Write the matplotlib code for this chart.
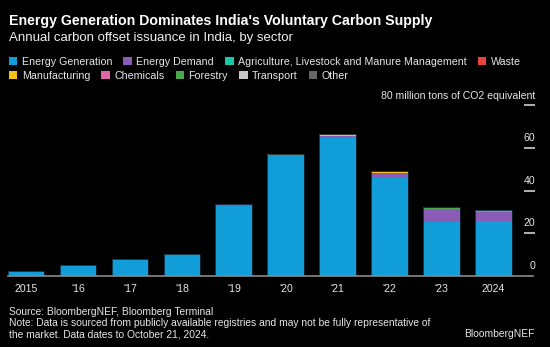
import matplotlib.pyplot as plt
from matplotlib.patches import Patch
import numpy as np

plt.rcParams['font.family'] = ['Liberation Sans', 'DejaVu Sans']

years = ['2015', "'16", "'17", "'18", "'19", "'20", "'21", "'22", "'23", '2024']

# million tons CO2e
energy_gen = [2.3, 5.2, 7.8, 10.2, 32.9, 56.3, 64.9, 45.9, 25.0, 25.7]
energy_dem = [0, 0, 0, 0, 0.8, 0.2, 0.5, 2.5, 6.4, 4.4]
agriculture = [0, 0, 0, 0, 0, 0, 0, 0, 0, 0.9]
waste = [0, 0, 0, 0, 0, 0, 0.3, 0, 0, 0]
manufacturing = [0, 0, 0, 0, 0, 0.5, 0.6, 0.1, 0, 0]
chemicals = [0, 0, 0, 0, 0, 0, 0.3, 0, 0, 0]
forestry = [0, 0, 0, 0, 0, 0.3, 0, 0.8, 0.2, 0]
transport = [0, 0, 0, 0, 0, 0, 0, 0, 0, 0]
other = [0, 0, 0, 0, 0, 0, 0, 0, 0.6, 0]

series = [
    ('Energy Generation', energy_gen, '#119ed8'),
    ('Energy Demand', energy_dem, '#8a5cb5'),
    ('Agriculture, Livestock and Manure Management', agriculture, '#17c9a6'),
    ('Waste', waste, '#e8423a'),
    ('Manufacturing', manufacturing, '#f2c017'),
    ('Chemicals', chemicals, '#e066a8'),
    ('Forestry', forestry, '#4aa84e'),
    ('Transport', transport, '#c8c8c8'),
    ('Other', other, '#666666'),
]

fig = plt.figure(figsize=(5.5, 3.47), dpi=100, facecolor='black')
ax = fig.add_axes([0.014, 0.2055, 0.9727 - 0.014, 0.6965 - 0.2055])
ax.set_facecolor('black')

x = np.arange(len(years))
bottom = np.zeros(len(years))
for name, vals, col in series:
    ax.bar(x, vals, 0.706, bottom=bottom, color=col, edgecolor='none')
    bottom += np.array(vals)
# dark outline round each whole bar
ax.bar(x, bottom, 0.706, facecolor='none', edgecolor='#0f2636', linewidth=0.6)

ax.set_xlim(-0.353, 9.797)
ax.set_ylim(0, 80)

for s in ['top', 'left', 'right']:
    ax.spines[s].set_visible(False)
ax.spines['bottom'].set_color('#8a8a8a')
ax.spines['bottom'].set_linewidth(1.2)
ax.spines['bottom'].set_bounds(-0.353, 9.75)

ax.set_xticks(x)
ax.set_xticklabels(years, color='#e6e6e6', fontsize=7.6)
ax.tick_params(axis='x', length=0, pad=6)

ax.yaxis.tick_right()
ax.set_yticks([20, 40, 60, 80])
ax.set_yticklabels([])
ax.tick_params(axis='y', direction='in', length=8, width=1.2, color='#d0d0d0')

ylabels = ['0', '20', '40', '60', '80 million tons of CO2 equivalent']
for v, lab in zip([0, 20, 40, 60, 80], ylabels):
    ax.text(1.0, v + 2.2, lab, transform=ax.get_yaxis_transform(), ha='right',
            va='bottom', color='#e6e6e6', fontsize=7.6, clip_on=False)

fig.text(0.016, 1 - 20.7 / 347, "Energy Generation Dominates India's Voluntary Carbon Supply",
         color='white', fontsize=10.2, fontweight='bold', va='center')
fig.text(0.016, 1 - 38 / 347, 'Annual carbon offset issuance in India, by sector',
         color='#f0f0f0', fontsize=9.5, va='center')

handles = [Patch(facecolor=c, edgecolor='none') for _, _, c in series]
labels = [n for n, _, _ in series]
kw = dict(frameon=False, fontsize=7.7, handlelength=0.8, handleheight=0.8,
          handletextpad=0.4, columnspacing=1.05, borderpad=0, borderaxespad=0,
          labelcolor='#e6e6e6', loc='center left')
fig.legend(handles[:4], labels[:4], ncol=4, bbox_to_anchor=(0.016, 1 - 62 / 347), **kw)
fig.legend(handles[4:], labels[4:], ncol=5, bbox_to_anchor=(0.016, 1 - 76 / 347), **kw)

fig.text(0.016, 1 - 311.7 / 347, 'Source: BloombergNEF, Bloomberg Terminal',
         color='#e6e6e6', fontsize=7.4, va='center')
fig.text(0.016, 1 - 323.3 / 347,
         'Note: Data is sourced from publicly available registries and may not be fully representative of',
         color='#e6e6e6', fontsize=7.4, va='center')
fig.text(0.016, 1 - 334.3 / 347, 'the market. Data dates to October 21, 2024.',
         color='#e6e6e6', fontsize=7.4, va='center')
fig.text(0.9727, 1 - 334.3 / 347, 'BloombergNEF', color='#e6e6e6', fontsize=7.4,
         va='center', ha='right')

fig.savefig('out.png', dpi=100, facecolor='black')
